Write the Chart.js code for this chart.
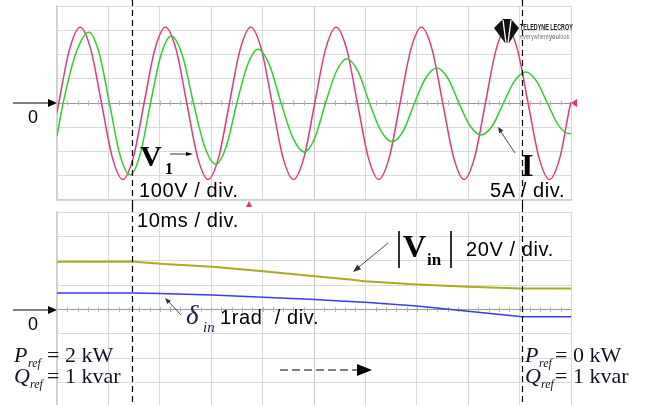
<!DOCTYPE html>
<html>
<head>
<meta charset="utf-8">
<script src="https://cdn.jsdelivr.net/npm/chart.js@4.4.1/dist/chart.umd.min.js"></script>
<style>
  body { margin: 0; width: 653px; height: 405px; overflow: hidden; position: relative; background: #fff; }
  canvas { position: absolute; left: 0; }
  #scopeTop { top: 0; }
  #scopeBot { top: 206px; }
  #overlay { position: absolute; left: 0; top: 0; }
  .lbl { position: absolute; white-space: nowrap; line-height: 1; color: #000; }
  .sans { font-family: "Liberation Sans", Arial, sans-serif; font-size: 20px; letter-spacing: 0.6px; }
  .serif { font-family: "Liberation Serif", "Times New Roman", serif; color: #111128; }
</style>
</head>
<body>
<canvas id="scopeTop" width="653" height="206"></canvas>
<canvas id="scopeBot" width="653" height="203"></canvas>

<svg id="overlay" width="653" height="405">
  <!-- zero markers -->
  <line x1="13" y1="103" x2="50" y2="103" stroke="#000" stroke-width="1.2"/>
  <polygon points="57,103 48,99 48,107" fill="#000"/>
  <line x1="13" y1="310" x2="50" y2="310" stroke="#000" stroke-width="1.2"/>
  <polygon points="57,310 48,306 48,314" fill="#000"/>
  <!-- scope markers -->
  <polygon points="571,103 577,99 577,107" fill="#e8307a"/>
  <polygon points="249,201 246,207 252,207" fill="#e8307a"/>
  <!-- pointers -->
  <line x1="170" y1="154" x2="188" y2="154" stroke="#000" stroke-width="0.8"/>
  <polygon points="193,154 186,152 186,156" fill="#000"/>
  <line x1="515" y1="153" x2="501" y2="132" stroke="#333" stroke-width="0.9"/>
  <polygon points="498,127 503.4,130.6 499.2,133.4" fill="#333"/>
  <line x1="388" y1="243" x2="359" y2="267" stroke="#333" stroke-width="0.9"/>
  <polygon points="353,272 361.1,269.2 357.3,264.6" fill="#333"/>
  <line x1="181" y1="315" x2="169" y2="302" stroke="#333" stroke-width="0.9"/>
  <polygon points="165,298 170.9,300.7 167.3,304.1" fill="#333"/>
  <line x1="280" y1="370" x2="358" y2="370" stroke="#000" stroke-width="1.2" stroke-dasharray="8,4"/>
  <polygon points="372,370 357,364 357,376" fill="#000"/>
  <!-- |Vin| bars -->
  <line x1="399" y1="231" x2="399" y2="268" stroke="#000" stroke-width="1.6"/>
  <line x1="451" y1="231" x2="451" y2="268" stroke="#000" stroke-width="1.6"/>
  <!-- logo -->
  <polygon points="494,28 503,19 511,19 519,28 509,43 505,43" fill="#111"/>
  <line x1="503" y1="20" x2="506" y2="43" stroke="#fff" stroke-width="1.3"/>
  <line x1="511" y1="20" x2="508" y2="43" stroke="#fff" stroke-width="1.3"/>
</svg>

<div class="lbl" style="left:520px;top:22px;font:bold 9px 'Liberation Sans',Arial,sans-serif;transform:scaleX(0.6);transform-origin:0 0;color:#222">TELEDYNE LECROY</div>
<div class="lbl" style="left:520px;top:33px;font:7px 'Liberation Sans',Arial,sans-serif;transform:scaleX(0.8);transform-origin:0 0;color:#777">everywhere<b>you</b>look</div>

<div class="lbl sans" style="left:28px;top:108px;font-size:18px">0</div>
<div class="lbl sans" style="left:28px;top:315px;font-size:18px">0</div>
<div class="lbl sans" style="left:139px;top:180px">100V / div.</div>
<div class="lbl sans" style="left:490px;top:180px">5A / div.</div>
<div class="lbl sans" style="left:137px;top:210px">10ms / div.</div>
<div class="lbl sans" style="left:466px;top:239px">20V / div.</div>
<div class="lbl sans" style="left:220px;top:307px">1rad&nbsp; / div.</div>

<div class="lbl serif" style="left:140px;top:141px;font-size:30px;font-weight:bold;color:#000">V</div>
<div class="lbl serif" style="left:165px;top:161px;font-size:16px;font-weight:bold;color:#000">1</div>
<div class="lbl serif" style="left:521px;top:149px;font-size:32px;font-weight:bold;color:#000">I</div>
<div class="lbl serif" style="left:403px;top:230px;font-size:32px;font-weight:bold;color:#000">V</div>
<div class="lbl serif" style="left:427px;top:251px;font-size:17px;font-weight:bold;color:#000">in</div>
<div class="lbl serif" style="left:186px;top:302px;font-size:27px;font-style:italic;color:#1c1c50">δ</div>
<div class="lbl serif" style="left:203px;top:320px;font-size:15px;font-style:italic;color:#1c1c50">in</div>

<div class="lbl serif" style="left:14px;top:344px;font-size:22px;font-style:italic">P</div>
<div class="lbl serif" style="left:28px;top:357px;font-size:12px;font-style:italic">ref</div>
<div class="lbl serif" style="left:47px;top:344px;font-size:22px">= 2 kW</div>
<div class="lbl serif" style="left:14px;top:365px;font-size:22px;font-style:italic">Q</div>
<div class="lbl serif" style="left:30px;top:378px;font-size:12px;font-style:italic">ref</div>
<div class="lbl serif" style="left:47px;top:365px;font-size:22px">= 1 kvar</div>

<div class="lbl serif" style="left:525px;top:344px;font-size:22px;font-style:italic">P</div>
<div class="lbl serif" style="left:539px;top:357px;font-size:12px;font-style:italic">ref</div>
<div class="lbl serif" style="left:555px;top:344px;font-size:22px">= 0 kW</div>
<div class="lbl serif" style="left:525px;top:365px;font-size:22px;font-style:italic">Q</div>
<div class="lbl serif" style="left:541px;top:378px;font-size:12px;font-style:italic">ref</div>
<div class="lbl serif" style="left:555px;top:365px;font-size:22px">= 1 kvar</div>

<script>
"use strict";

// time base: 10 div x 10 ms
const switchTimes = [14.6, 90.5];

// V1, 100V/div (ms, V)
const tV1 = [0, 0.35, 2.43, 4.5, 6.58, 8.65, 10.73, 12.8, 14.88, 16.95, 19.03, 21.1, 23.18, 25.25,
    27.33, 29.4, 31.48, 33.55, 35.63, 37.7, 39.78, 41.85, 43.93, 46.0, 48.08, 50.15, 52.23, 54.3,
    56.38, 58.45, 60.53, 62.6, 64.68, 66.75, 68.83, 70.9, 72.98, 75.05, 77.13, 79.2, 81.28, 83.35,
    85.43, 87.5, 89.58, 91.65, 93.73, 95.8, 97.88, 99.95, 100];
const v1Volts = [-40, 0, 220, 312, 220, 0, -222, -315, -222, 0, 220, 312, 220, 0,
    -222, -315, -222, 0, 220, 312, 220, 0, -222, -315, -222, 0, 220, 312,
    220, 0, -222, -315, -222, 0, 220, 312, 220, 0, -222, -315, -222, 0,
    220, 312, 220, 0, -222, -315, -222, 0, 3];

// I, 5A/div (ms, A)
const tI = [0, 1.2, 3.7, 6.2, 8.2, 10.2, 12.2, 14.2, 16.2, 18.2, 20.2, 22.2, 24.4, 26.55, 28.7, 30.9,
    32.95, 35.0, 37.05, 39.1, 41.35, 43.6, 45.85, 48.1, 50.2, 52.25, 54.3, 56.4, 58.6, 60.8, 63.0, 65.2,
    67.4, 69.55, 71.7, 73.9, 76.05, 78.2, 80.35, 82.5, 84.7, 86.85, 89.0, 91.2, 93.3, 95.4, 97.5, 99.6, 100];
const iAmps = [-6.8, 0, 10.3, 14.6, 10.3, 0, -10.5, -14.8, -10.5, 0, 9.8, 13.8, 9.8, 0, -8.9, -12.6,
    -8.9, 0, 7.8, 11.1, 7.8, 0, -7.1, -10.1, -7.1, 0, 6.4, 9.1, 6.4, 0, -5.7, -8.0,
    -5.7, 0, 5.1, 7.2, 5.1, 0, -4.7, -6.6, -4.7, 0, 4.5, 6.4, 4.5, 0, -4.5, -6.3, -6.3];

// |Vin|, 20V/div
const tVin = [0, 14.6, 20.0, 30.2, 40.1, 50.2, 57.0, 59.9, 70.0, 80.0, 90.5, 100];
const vinVolts = [39.1, 39.3, 37.5, 35.0, 31.4, 27.3, 24.6, 23.2, 20.5, 18.6, 17.2, 17.2];

// delta_in, 1rad/div
const tDelta = [0, 14.6, 20.0, 30.2, 40.1, 50.2, 55.1, 59.9, 70.0, 80.0, 90.5, 100];
const deltaRad = [0.68, 0.68, 0.66, 0.59, 0.50, 0.41, 0.35, 0.30, 0.14, -0.07, -0.30, -0.30];

function pts(xs, ys) {
    return xs.map((x, i) => ({ x: x, y: ys[i] }));
}

// dashed markers + small ticks on the zero line
function scopeDeco(zeroAxis) {
    return {
        id: "scopeDeco",
        beforeDatasetsDraw(chart) {
            const c = chart.ctx, xs = chart.scales.x, y0 = chart.scales[zeroAxis].getPixelForValue(0);
            c.save();
            c.strokeStyle = "#b4b4b4";
            c.lineWidth = 1;
            c.beginPath();
            for(let t = 2; t < 100; t += 2) {
                const px = Math.round(xs.getPixelForValue(t)) + 0.5;
                c.moveTo(px, y0 - 2.5);
                c.lineTo(px, y0 + 2.5);
            }
            c.stroke();
            c.restore();
        },
        afterDraw(chart) {
            const c = chart.ctx, xs = chart.scales.x;
            c.save();
            c.strokeStyle = "#000";
            c.lineWidth = 1.2;
            c.setLineDash([6, 4]);
            switchTimes.forEach(t => {
                const px = Math.round(xs.getPixelForValue(t)) + 0.5;
                c.beginPath();
                c.moveTo(px, 0);
                c.lineTo(px, chart.height);
                c.stroke();
            });
            c.restore();
        }
    };
}

function xAxis() {
    return {
        type: "linear", min: 0, max: 100,
        ticks: { display: false, stepSize: 10 },
        grid: { color: ctx => ctx.tick && ctx.tick.value === 50 ? "#c6c6c6" : "#dadada", drawTicks: false },
        border: { color: "#cfcfcf", width: 1.5 }
    };
}

function yAxis(lim, step) {
    return {
        min: -lim, max: lim,
        ticks: { display: false, stepSize: step },
        grid: { color: ctx => ctx.tick && ctx.tick.value === 0 ? "#9a9a9a" : "#dadada", drawTicks: false },
        border: { color: "#cfcfcf", width: 1.5 }
    };
}

function line(data, color, axis, smooth, width) {
    return {
        data: data, yAxisID: axis,
        borderColor: color, borderWidth: width || 1.5,
        pointRadius: 0, fill: false,
        cubicInterpolationMode: smooth ? "monotone" : "default",
        tension: 0
    };
}

const common = {
    responsive: false,
    animation: false,
    events: [],
    plugins: { legend: { display: false }, tooltip: { enabled: false } }
};

new Chart(document.getElementById("scopeTop").getContext("2d"), {
    type: "line",
    data: {
        datasets: [
            line(pts(tI, iAmps), "#2fcf2f", "yI", true),
            line(pts(tV1, v1Volts), "#e0397c", "yV", true)
        ]
    },
    options: Object.assign({}, common, {
        layout: { padding: { left: 57, right: 82, top: 6, bottom: 6 } },
        scales: {
            x: xAxis(),
            yV: Object.assign(yAxis(400, 100), { position: "left" }),
            yI: { display: false, min: -20, max: 20 }
        }
    }),
    plugins: [scopeDeco("yV")]
});

new Chart(document.getElementById("scopeBot").getContext("2d"), {
    type: "line",
    data: {
        datasets: [
            line(pts(tVin, vinVolts), "#acac22", "yVin", false, 2),
            line(pts(tDelta, deltaRad), "#3a3af0", "yD", false)
        ]
    },
    options: Object.assign({}, common, {
        layout: { padding: { left: 57, right: 82, top: 6, bottom: 2 } },
        scales: {
            x: xAxis(),
            yVin: Object.assign(yAxis(80, 20), { position: "left" }),
            yD: { display: false, min: -4, max: 4 }
        }
    }),
    plugins: [scopeDeco("yVin")]
});
</script>
</body>
</html>
